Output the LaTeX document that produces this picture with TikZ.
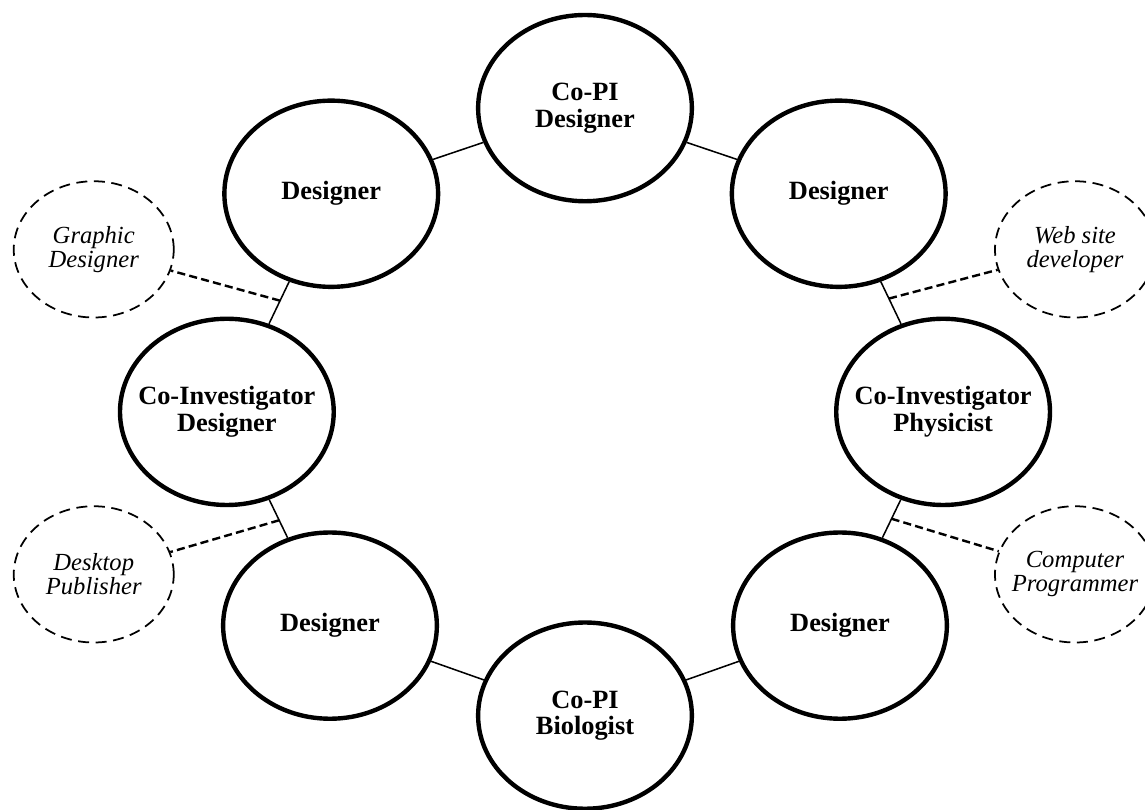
\documentclass[tikz,border=0pt]{standalone}
\usepackage{fontspec}
\setmainfont{Liberation Serif}
\usetikzlibrary{positioning, shapes.geometric}

\begin{document}
\begin{tikzpicture}[
        every node/.style={ellipse, align=center},
        member/.style={draw, line width=2pt, minimum width=3.42cm, minimum height=2.98cm, inner xsep=-0.6cm, font=\fontsize{12}{12}\selectfont\bfseries},
        skill/.style={draw, dash pattern=on 5pt off 3pt, line width=0.8pt, minimum width=2.56cm, minimum height=2.18cm, inner xsep=-0.3cm, font=\fontsize{11.2}{11}\selectfont\itshape},
        link/.style={line width=0.7pt},
        hint/.style={dash pattern=on 3.7pt off 1.9pt, line width=1.1pt}
    ]
    \useasboundingbox (-9.36,-6.37) rectangle (8.96,6.59);

    % Team members
    \node[member] (copiD) at (0, 4.86) {Co-PI\\Designer};
    \node[member] (desTR) at (4.06, 3.49) {Designer};
    \node[member] (coiP) at (5.73, 0) {Co-Investigator\\Physicist};
    \node[member] (desBR) at (4.08, -3.42) {Designer};
    \node[member] (copiB) at (0, -4.86) {Co-PI\\Biologist};
    \node[member] (desBL) at (-4.08, -3.42) {Designer};
    \node[member] (coiD) at (-5.73, 0) {Co-Investigator\\Designer};
    \node[member] (desTL) at (-4.06, 3.49) {Designer};

    % Skills
    \node[skill] (graph) at (-7.86, 2.6) {Graphic\\Designer};
    \node[skill] (web) at (7.84, 2.6) {Web site\\developer};
    \node[skill] (pub) at (-7.86, -2.6) {Desktop\\Publisher};
    \node[skill] (prog) at (7.84, -2.6) {Computer\\Programmer};

    % Ring
    \draw[link] (copiD) -- (desTR);
    \draw[link] (desTR) -- coordinate[pos=0.4] (webAt) (coiP);
    \draw[link] (coiP) -- coordinate[pos=0.5] (progAt) (desBR);
    \draw[link] (desBR) -- (copiB);
    \draw[link] (copiB) -- (desBL);
    \draw[link] (desBL) -- coordinate[pos=0.46] (pubAt) (coiD);
    \draw[link] (coiD) -- coordinate[pos=0.55] (graphAt) (desTL);
    \draw[link] (desTL) -- (copiD);

    % Skills to ring
    \draw[hint] (graphAt) -- (graph);
    \draw[hint] (webAt) -- (web);
    \draw[hint] (pubAt) -- (pub);
    \draw[hint] (progAt) -- (prog);

\end{tikzpicture}
\end{document}
